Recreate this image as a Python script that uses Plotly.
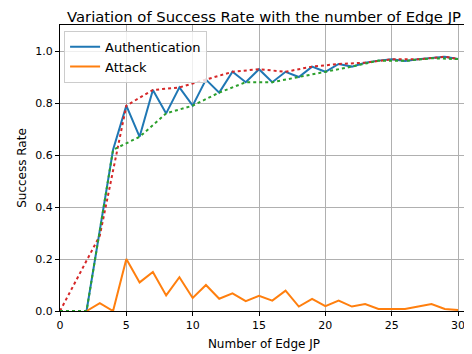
import plotly.graph_objects as go

# Data
x_auth = list(range(2, 31))
auth = [0.0, 0.31, 0.62, 0.79, 0.67, 0.85, 0.76, 0.86, 0.79, 0.89, 0.84, 0.92, 0.88, 0.93,
        0.88, 0.92, 0.90, 0.94, 0.92, 0.95, 0.94, 0.955, 0.963, 0.968, 0.962, 0.968, 0.972,
        0.978, 0.969]
x_attack = list(range(2, 31))
attack = [0.0, 0.03, 0.0, 0.2, 0.11, 0.15, 0.06, 0.13, 0.05, 0.10, 0.047, 0.068, 0.038,
          0.058, 0.04, 0.078, 0.017, 0.047, 0.019, 0.04, 0.017, 0.027, 0.008, 0.008, 0.008,
          0.017, 0.027, 0.008, 0.004]
x_upper = [0, 3, 5, 7, 9, 11, 13, 15, 17, 19, 21, 23, 25, 27, 29, 30]
upper = [0.0, 0.29, 0.79, 0.85, 0.86, 0.89, 0.92, 0.93, 0.92, 0.94, 0.95, 0.955, 0.968,
         0.968, 0.978, 0.969]
x_lower = [0, 2, 4, 6, 8, 10, 12, 14, 16, 18, 20, 22, 24, 26, 28, 30]
lower = [0.0, 0.0, 0.62, 0.67, 0.76, 0.79, 0.84, 0.88, 0.88, 0.90, 0.92, 0.94, 0.963,
         0.962, 0.972, 0.969]
x_ticks = [0, 5, 10, 15, 20, 25, 30]
y_ticks = [0.0, 0.2, 0.4, 0.6, 0.8, 1.0]

FONT = "DejaVu Sans"

fig = go.Figure()
fig.add_trace(go.Scatter(x=x_auth, y=auth, mode="lines", name="Authentication",
                         line=dict(color="#1f77b4", width=2)))
fig.add_trace(go.Scatter(x=x_attack, y=attack, mode="lines", name="Attack",
                         line=dict(color="#ff7f0e", width=2)))
fig.add_trace(go.Scatter(x=x_upper, y=upper, mode="lines", showlegend=False,
                         line=dict(color="#d62728", width=2, dash="dot")))
fig.add_trace(go.Scatter(x=x_lower, y=lower, mode="lines", showlegend=False,
                         line=dict(color="#2ca02c", width=2, dash="dot")))

axis_common = dict(showgrid=True, gridcolor="#b0b0b0", gridwidth=0.8,
                   showline=True, linecolor="black", linewidth=1, mirror=True,
                   ticks="outside", ticklen=4, tickcolor="black", tickwidth=1,
                   zeroline=False, tickfont=dict(family=FONT, size=11, color="black"))

# page body has an 8px margin; figure is sized so the plot area lands where the reference has it
fig.update_layout(
    width=464, height=346,
    margin=dict(l=52, r=4, t=17, b=43),
    paper_bgcolor="white", plot_bgcolor="white",
    font=dict(family=FONT, color="black"),
    title=dict(text="Variation of Success Rate with the number of Edge JP",
               x=0.5, xref="paper", xanchor="center",
               y=1.0, yref="container", yanchor="top", pad=dict(t=4, b=0),
               font=dict(family=FONT, size=14.8, color="black")),
    xaxis=dict(range=[0, 30.75], tickvals=x_ticks,
               title=dict(text="Number of Edge JP", font=dict(family=FONT, size=12), standoff=8),
               automargin=False, **axis_common),
    yaxis=dict(range=[0, 1.1], tickvals=y_ticks, tickformat=".1f",
               title=dict(text="Success Rate", font=dict(family=FONT, size=12), standoff=6),
               automargin=False, **axis_common),
    legend=dict(x=0.01, y=0.98, xanchor="left", yanchor="top",
                bgcolor="rgba(255,255,255,0.8)", bordercolor="#cccccc", borderwidth=1,
                font=dict(family=FONT, size=13, color="black"),
                tracegroupgap=0, itemwidth=30),
)

fig.write_html("out.html")
